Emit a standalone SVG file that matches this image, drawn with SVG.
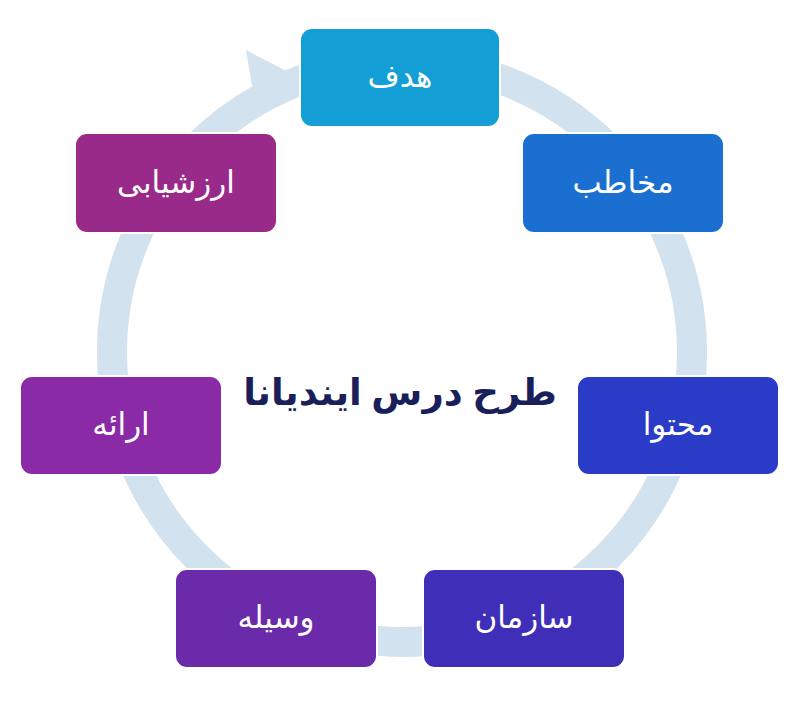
<svg xmlns="http://www.w3.org/2000/svg" width="800" height="707" viewBox="0 0 800 707">
<style>
.n rect{rx:12px;stroke:#fff;stroke-width:2}
.n text{font-family:"Noto Sans","DejaVu Sans",sans-serif;font-size:31px;fill:#fff;text-anchor:middle;dominant-baseline:central}
</style>
<rect width="800" height="707" fill="#fff"/>
<g id="connectors">
<circle cx="402" cy="352" r="290" fill="none" stroke="#d2e2ef" stroke-width="30"/>
<polygon points="246,50 300,78 256,110" fill="#d2e2ef"/>
</g>
<g id="n1" class="n"><rect x="300" y="28" width="200" height="99" fill="#139fd6"/><text x="400" y="75">هدف</text></g>
<g id="n2" class="n"><rect x="522" y="133" width="202" height="100" fill="#1a6fd0"/><text x="623" y="181">مخاطب</text></g>
<g id="n3" class="n"><rect x="577" y="376" width="202" height="99" fill="#2a3bc8"/><text x="678" y="423">محتوا</text></g>
<g id="n4" class="n"><rect x="423" y="569" width="202" height="99" fill="#3f2fb8"/><text x="524" y="616">سازمان</text></g>
<g id="n5" class="n"><rect x="175" y="569" width="202" height="99" fill="#6a2aaa"/><text x="276" y="616">وسیله</text></g>
<g id="n6" class="n"><rect x="20" y="376" width="202" height="99" fill="#8a2aa6"/><text x="121" y="423">ارائه</text></g>
<g id="n7" class="n"><rect x="75" y="133" width="202" height="100" fill="#9a2a8a"/><text x="176" y="181">ارزشیابی</text></g>
<text id="title" x="400" y="390" font-family="'Noto Sans','DejaVu Sans',sans-serif" font-size="37" font-weight="bold" fill="#1a1f5a" text-anchor="middle" dominant-baseline="central">طرح درس ایندیانا</text>
</svg>
